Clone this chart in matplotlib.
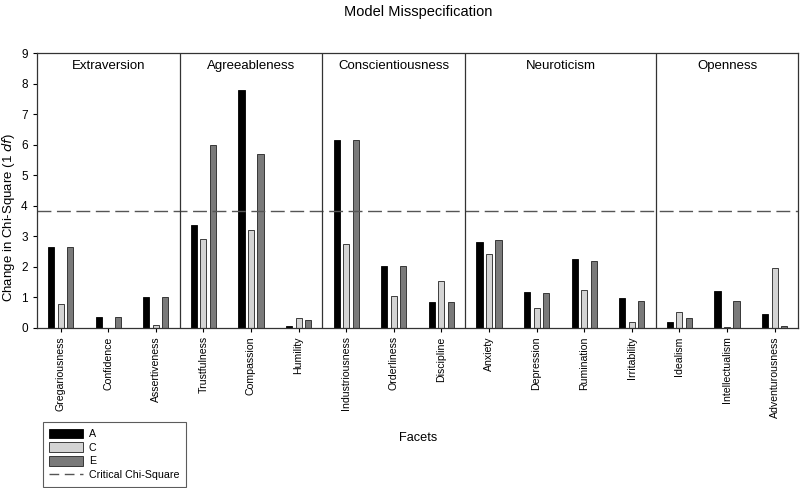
import numpy as np
import matplotlib.pyplot as plt
from matplotlib.patches import Patch
from matplotlib.lines import Line2D

plt.rcParams['font.family'] = ['Liberation Sans', 'DejaVu Sans']

facets = ['Gregariousness', 'Confidence', 'Assertiveness',
          'Trustfulness', 'Compassion', 'Humility',
          'Industriousness', 'Orderliness', 'Discipline',
          'Anxiety', 'Depression', 'Rumination', 'Irritability',
          'Idealism', 'Intellectualism', 'Adventurousness']
domains = ['Extraversion', 'Agreeableness', 'Conscientiousness', 'Neuroticism', 'Openness']
domain_sizes = [3, 3, 3, 4, 3]

a_vals = [2.65, 0.35, 1.0, 3.38, 7.8, 0.07, 6.15, 2.02, 0.85, 2.82, 1.17, 2.25, 0.97, 0.2, 1.2, 0.47]
c_vals = [0.78, 0.0, 0.08, 2.9, 3.22, 0.33, 2.75, 1.03, 1.53, 2.42, 0.65, 1.25, 0.18, 0.53, 0.03, 1.95]
e_vals = [2.65, 0.35, 1.0, 6.0, 5.7, 0.27, 6.15, 2.02, 0.85, 2.87, 1.15, 2.2, 0.87, 0.33, 0.88, 0.07]
critical = 3.84

fig = plt.figure(figsize=(8, 4.88), dpi=100)
ax = fig.add_axes([0.046, 0.328, 0.952, 0.563])

x = np.arange(len(facets))
w = 0.13
off = 0.2
ax.bar(x - off, a_vals, w, color='black', edgecolor='black', linewidth=0.6)
ax.bar(x, c_vals, w, color='#d4d4d4', edgecolor='#222222', linewidth=0.6)
ax.bar(x + off, e_vals, w, color='#7a7a7a', edgecolor='#222222', linewidth=0.6)

ax.axhline(critical, color='#555555', linestyle=(0, (10, 4)), linewidth=1.0)

# domain separators and labels
start = 0
for name, n in zip(domains, domain_sizes):
    end = start + n
    if end < len(facets):
        ax.axvline(end - 0.5, color='#333333', linewidth=0.9)
    ax.text((start + end - 1) / 2, 8.78, name, ha='center', va='top', fontsize=9.5)
    start = end

ax.set_xlim(-0.5, len(facets) - 0.5)
ax.set_ylim(0, 9)
ax.set_yticks(range(10))
ax.set_xticks(x)
ax.set_xticklabels(facets, rotation=90, fontsize=7.6)
ax.tick_params(axis='y', labelsize=8.5, length=3, width=0.8)
ax.tick_params(axis='x', length=3, width=0.8, pad=3)
for s in ax.spines.values():
    s.set_linewidth(0.9)
    s.set_color('#333333')

fig.text(0.011, 0.555, 'Change in Chi-Square (1 $\\it{df}$)', rotation=90,
         ha='center', va='center', fontsize=9.5)
fig.text(0.523, 0.103, 'Facets', ha='center', va='center', fontsize=9.2)
fig.text(0.523, 0.975, 'Model Misspecification', ha='center', va='center', fontsize=10.5)

handles = [Patch(facecolor='black', edgecolor='black', linewidth=0.6),
           Patch(facecolor='#d4d4d4', edgecolor='#222222', linewidth=0.6),
           Patch(facecolor='#7a7a7a', edgecolor='#222222', linewidth=0.6),
           Line2D([0], [0], color='#555555', linestyle=(0, (7, 4)), linewidth=1.0)]
leg = fig.legend(handles, ['A', 'C', 'E', 'Critical Chi-Square'],
                 loc='lower left', bbox_to_anchor=(0.047, -0.008),
                 fontsize=7.7, frameon=True, fancybox=False,
                 handlelength=3.1, handleheight=1.0, labelspacing=0.3,
                 borderpad=0.6, handletextpad=0.6)
leg.get_frame().set_edgecolor('#333333')
leg.get_frame().set_linewidth(0.8)

fig.savefig('out.png', dpi=100)
